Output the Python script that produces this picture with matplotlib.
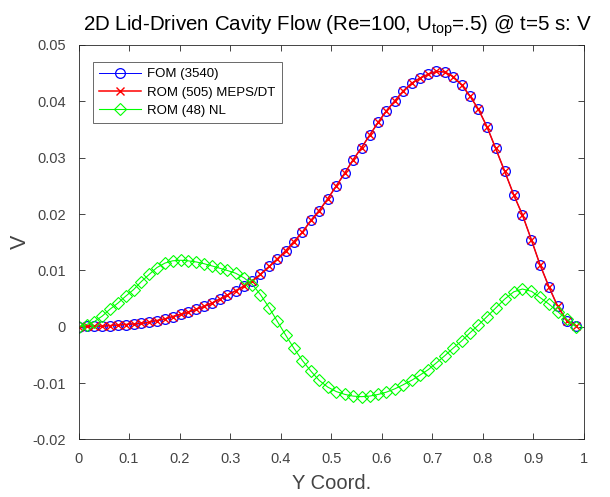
import numpy as np
import matplotlib
matplotlib.use("Agg")
from matplotlib import pyplot as plt

plt.rcParams['font.family'] = ['Liberation Sans', 'DejaVu Sans']
plt.rcParams['mathtext.fontset'] = 'custom'
plt.rcParams['mathtext.rm'] = 'Liberation Sans'
plt.rcParams['mathtext.it'] = 'Liberation Sans:italic'

# sample locations along the vertical centre line
y_coord = [0.000, 0.016, 0.031, 0.047, 0.062, 0.078, 0.093, 0.109, 0.124, 0.140,
           0.155, 0.171, 0.186, 0.202, 0.217, 0.233, 0.248, 0.264, 0.279, 0.294,
           0.311, 0.327, 0.344, 0.360, 0.377, 0.393, 0.410, 0.426, 0.443, 0.460,
           0.476, 0.493, 0.510, 0.527, 0.543, 0.560, 0.576, 0.593, 0.609, 0.626,
           0.642, 0.659, 0.675, 0.692, 0.708, 0.725, 0.741, 0.758, 0.774, 0.791,
           0.808, 0.825, 0.843, 0.861, 0.878, 0.896, 0.913, 0.931, 0.948, 0.966,
           0.984]

# V velocity, full order model
v_fom = [0.0000, 0.0001, 0.0001, 0.0001, 0.0002, 0.0003, 0.0004, 0.0005, 0.0006, 0.0008,
         0.0011, 0.0014, 0.0018, 0.0022, 0.0026, 0.0031, 0.0036, 0.0042, 0.0049, 0.0056,
         0.0064, 0.0072, 0.0082, 0.0093, 0.0107, 0.0120, 0.0135, 0.0151, 0.0168, 0.0189,
         0.0206, 0.0227, 0.0250, 0.0273, 0.0296, 0.0318, 0.0340, 0.0363, 0.0383, 0.0401,
         0.0418, 0.0432, 0.0441, 0.0448, 0.0453, 0.0452, 0.0444, 0.0429, 0.0410, 0.0386,
         0.0355, 0.0317, 0.0276, 0.0234, 0.0199, 0.0154, 0.0110, 0.0070, 0.0036, 0.0011,
         0.0002]

# MEPS/DT reduced model sits on top of the FOM
v_rom_meps = list(v_fom)

# nonlinear reduced model with 48 modes
v_rom_nl = [0.0000, 0.0004, 0.0009, 0.0019, 0.0031, 0.0042, 0.0054, 0.0066, 0.0080, 0.0093,
            0.0105, 0.0113, 0.0117, 0.0118, 0.0117, 0.0115, 0.0112, 0.0108, 0.0104, 0.0100,
            0.0095, 0.0087, 0.0075, 0.0057, 0.0034, 0.0010, -0.0015, -0.0038, -0.0060, -0.0079,
            -0.0095, -0.0107, -0.0115, -0.0120, -0.0123, -0.0124, -0.0123, -0.0120, -0.0116, -0.0110,
            -0.0103, -0.0095, -0.0086, -0.0076, -0.0064, -0.0051, -0.0038, -0.0025, -0.0011, 0.0003,
            0.0018, 0.0033, 0.0049, 0.0062, 0.0067, 0.0063, 0.0052, 0.0040, 0.0027, 0.0013,
            0.0000]

labels = ['FOM (3540)', 'ROM (505) MEPS/DT', 'ROM (48) NL']

axcol = '#262626'
tickcol = '#444444'
fig = plt.figure(figsize=(6.10, 4.97), dpi=100)
ax = fig.add_axes([0.1287, 0.1157, 0.9574 - 0.1287, 0.9095 - 0.1157])

ax.plot(y_coord, v_fom, color='b', lw=0.7, marker='o', ms=7, mfc='none', mew=0.9, label=labels[0])
ax.plot(y_coord, v_rom_meps, color='r', lw=1.1, marker='x', ms=5.5, mew=1.0, label=labels[1])
ax.plot(y_coord, v_rom_nl, color='#00ff00', lw=0.8, marker='D', ms=6.3, mfc='none', mew=0.8, label=labels[2])

ax.set_xlim(0, 1)
ax.set_ylim(-0.02, 0.05)
ax.set_xticks(np.arange(0, 1.01, 0.1))
ax.set_xticklabels(['0', '0.1', '0.2', '0.3', '0.4', '0.5', '0.6', '0.7', '0.8', '0.9', '1'])
ax.set_yticks(np.arange(-0.02, 0.051, 0.01))
ax.set_yticklabels(['-0.02', '-0.01', '0', '0.01', '0.02', '0.03', '0.04', '0.05'])

ax.tick_params(direction='in', top=True, right=True, length=4, width=0.6,
               colors=axcol, labelsize=10.5, labelcolor=tickcol)
ax.tick_params(axis='x', pad=9)
ax.tick_params(axis='y', pad=9)
for s in ax.spines.values():
    s.set_color(axcol)
    s.set_linewidth(0.6)

ax.set_xlabel('Y Coord.', fontsize=14.5, color=tickcol, labelpad=6)
ax.set_ylabel('V', fontsize=15.5, color=tickcol, rotation=90, va='center', ha='center')
ax.yaxis.set_label_coords(-0.114, 0.5)
ttl = ax.set_title(r'2D Lid-Driven Cavity Flow (Re=100, U$_{\mathrm{top}}$=.5) @ t=5 s: V',
                   fontsize=14.8, color='black', pad=10)
ttl.set_x(0.512)

leg = ax.legend(loc='upper left', bbox_to_anchor=(0.028, 0.958), fontsize=9.5,
                frameon=True, fancybox=False, handlelength=3.2, borderpad=0.5,
                labelspacing=0.45, handletextpad=0.4, borderaxespad=0)
leg.get_frame().set_edgecolor('#262626')
leg.get_frame().set_linewidth(0.6)

plt.savefig('out.png', dpi=100)
